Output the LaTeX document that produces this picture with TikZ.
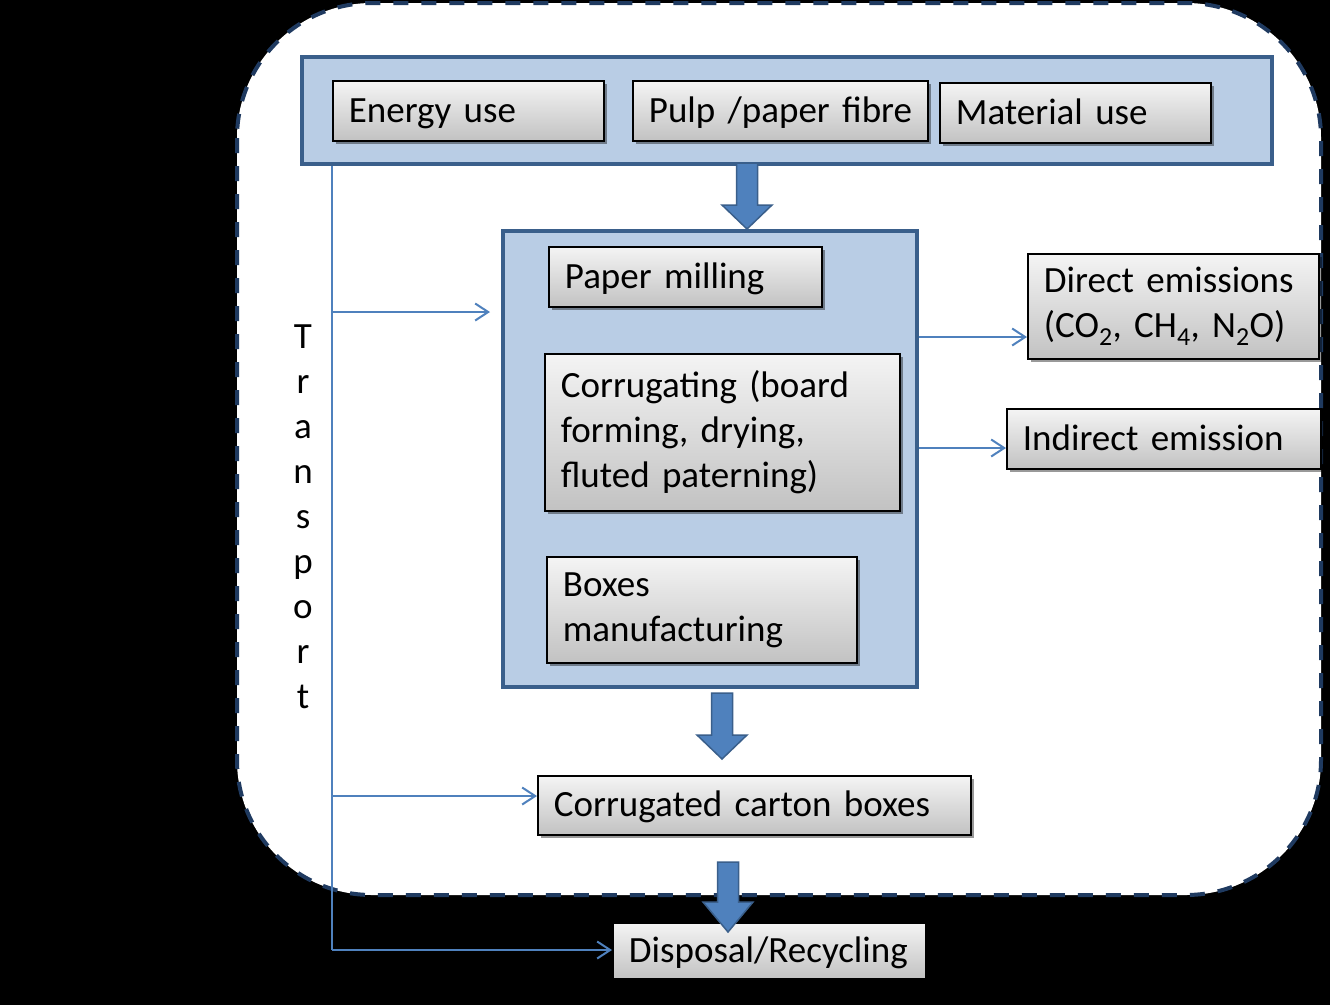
\documentclass[tikz,border=0pt]{standalone}
\usepackage{fontspec}
\setmainfont{Carlito}
\usetikzlibrary{arrows.meta,shadows}
\definecolor{navy}{HTML}{1F3A60}
\definecolor{bfill}{HTML}{B9CDE5}
\definecolor{bline}{HTML}{3A5F8B}
\definecolor{arr}{HTML}{4F81BD}
\definecolor{gtop}{HTML}{F4F4F4}
\definecolor{gbot}{HTML}{C2C2C2}
\newcommand\myblk[4]{\filldraw[blk] (#1-10.5,#2) -- (#1+10.5,#2) -- (#1+10.5,#3) -- (#1+25,#3) -- (#1,#4) -- (#1-25,#3) -- (#1-10.5,#3) -- cycle;}
\begin{document}
\begin{tikzpicture}[x=1pt,y=-1pt,
 gbox/.style={draw=black, line width=1.8pt, top color=gtop, bottom color=gbot,
   drop shadow={shadow xshift=3pt, shadow yshift=-3pt, opacity=0.4, fill=black},
   inner xsep=16pt, inner ysep=0pt, anchor=north west, align=left,
   font=\fontsize{37}{45}\selectfont},
 oneline/.style={text height=31pt, text depth=8pt},
 bluebox/.style={draw=bline, line width=4pt, fill=bfill, anchor=north west, inner sep=0pt},
 tline/.style={draw=arr, line width=2pt},
 thinarr/.style={tline, -{Straight Barb[length=13pt, width=17pt]}},
 blk/.style={fill=arr, draw=bline, line width=1.5pt, line join=miter}
]
\useasboundingbox (0,0) rectangle (1330,1005);
\fill[black] (0,0) rectangle (1330,1005);
\draw[draw=navy, fill=white, line width=4pt, dash pattern=on 15pt off 13pt, rounded corners=135pt] (237,3) rectangle (1321,895);

% containers
\node[bluebox, minimum width=970, minimum height=107] (top) at (300,55) {};
\node[bluebox, minimum width=414, minimum height=456] (mid) at (501,229) {};

% top inputs
\node[gbox, oneline, text width=239, minimum height=60] (en) at (332,80) {\mbox{Energy use}};
\node[gbox, oneline, text width=263, minimum height=60] (pulp) at (632,80) {\mbox{Pulp /paper fibre}};
\node[gbox, oneline, text width=239, minimum height=60] (mat) at (939,82) {\mbox{Material use}};

% process
\node[gbox, oneline, text width=241, minimum height=60] (pm) at (548,246) {\mbox{Paper milling}};
\node[gbox, text width=323, minimum height=157] (cor) at (544,353) {Corrugating (board\\forming, drying,\\fluted paterning)};
\node[gbox, text width=278, minimum height=106] (bm) at (546,556) {Boxes\\manufacturing};

% emissions
\node[gbox, text width=259, minimum height=105] (dir) at (1027,253) {Direct emissions\\(CO\textsubscript{2}, CH\textsubscript{4}, N\textsubscript{2}O)};
\node[gbox, oneline, text width=282, minimum height=60] (ind) at (1006,408) {\mbox{Indirect emission}};

% outputs
\node[gbox, oneline, text width=401, minimum height=59] (ccb) at (537,775) {\mbox{Corrugated carton boxes}};
\node[gbox, oneline, text width=281, minimum height=56] (disp) at (612,922) {\mbox{Disposal/Recycling}};

% transport
\node[font=\fontsize{37}{45}\selectfont, align=center, anchor=north, inner sep=0pt] (tr) at (303,325) {T\\r\\a\\n\\s\\p\\o\\r\\t};

\coordinate (tb) at (332,950);
\coordinate (m1) at (490,312);
\draw[tline] (en.west |- top.south) -- (tb);
\draw[thinarr] (en.west |- m1) -- (m1);
\draw[thinarr] (332,796) -- (ccb.west |- 0,796);
\draw[thinarr] (tb) -- (disp.west |- tb);

\draw[thinarr] (mid.east |- 0,337) -- (dir.west |- 0,337);
\draw[thinarr] (mid.east |- 0,448) -- (ind.west |- 0,448);

% block arrows
\myblk{747}{163}{205}{229}
\myblk{722}{693}{735}{759}
\myblk{728}{862}{902}{932}
\end{tikzpicture}
\end{document}
